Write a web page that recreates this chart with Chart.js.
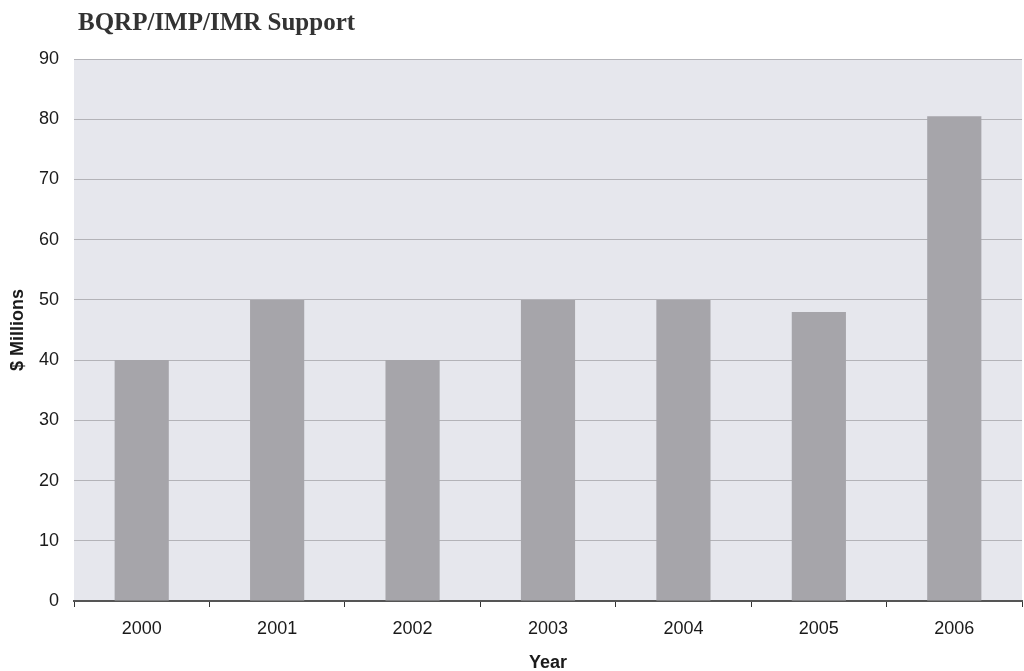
<!DOCTYPE html>
<html>
<head>
<meta charset="utf-8">
<script src="https://cdn.jsdelivr.net/npm/chart.js@4/dist/chart.umd.min.js"></script>
<style>
  html, body { margin: 0; padding: 0; background: #ffffff; }
  #wrap { width: 1024px; height: 671px; position: relative; }
</style>
</head>
<body>
<div id="wrap"><canvas id="c" width="1024" height="671"></canvas></div>
<script>
const years = ['2000', '2001', '2002', '2003', '2004', '2005', '2006'];
const support = [40, 50, 40, 50, 50, 48, 80.5];
const yTicks = [0, 10, 20, 30, 40, 50, 60, 70, 80, 90];
const chartTitle = 'BQRP/IMP/IMR Support';
const yTitle = '$ Millions';
const xTitle = 'Year';

const sans = '"Liberation Sans", Arial, sans-serif';

// Shaded plot background plus the serif heading above it
const plotDecor = {
  id: 'plotDecor',
  beforeDraw(chart) {
    const { ctx, chartArea: a } = chart;
    ctx.save();
    ctx.fillStyle = '#e6e7ed';
    ctx.fillRect(a.left, a.top, a.right - a.left, a.bottom - a.top);
    ctx.restore();
  },
  afterDraw(chart) {
    const { ctx, chartArea: a } = chart;
    ctx.save();
    ctx.font = 'bold 25px "Liberation Serif", "DejaVu Serif", serif';
    ctx.fillStyle = '#333333';
    ctx.textBaseline = 'alphabetic';
    ctx.textAlign = 'left';
    ctx.fillText(chartTitle, a.left + 4, 30);
    ctx.restore();
  }
};

new Chart(document.getElementById('c'), {
  type: 'bar',
  data: {
    labels: years,
    datasets: [{
      data: support,
      backgroundColor: '#a6a5aa',
      borderWidth: 0,
      barPercentage: 0.4,
      categoryPercentage: 1.0
    }]
  },
  options: {
    responsive: false,
    animation: false,
    layout: { padding: { top: 59, left: 7, right: 2, bottom: 0 } },
    plugins: {
      legend: { display: false },
      title: { display: false },
      tooltip: { enabled: false }
    },
    scales: {
      x: {
        offset: true,
        afterFit(scale) { scale.height = 70; },
        grid: {
          offset: true,
          drawOnChartArea: false,
          drawTicks: true,
          tickLength: 6,
          color: '#333333',
          lineWidth: 1
        },
        border: { display: true, color: '#555555', width: 2 },
        ticks: {
          color: '#1a1a1a',
          padding: 11,
          font: { family: sans, size: 18 }
        },
        title: {
          display: true,
          text: xTitle,
          color: '#1a1a1a',
          padding: { top: 0, bottom: -3 },
          font: { family: sans, size: 18, weight: 'bold' }
        }
      },
      y: {
        min: 0,
        max: 90,
        afterFit(scale) { scale.width = 67; },
        afterBuildTicks(scale) {
          scale.ticks = yTicks.map(v => ({ value: v }));
        },
        grid: {
          drawTicks: false,
          color: (ctx) => ctx.tick && ctx.tick.value === 0 ? 'rgba(0,0,0,0)' : '#b3b3b8',
          lineWidth: 1
        },
        border: { display: false },
        ticks: {
          color: '#1a1a1a',
          padding: 15,
          font: { family: sans, size: 18 }
        },
        title: {
          display: true,
          text: yTitle,
          color: '#1a1a1a',
          padding: { top: 0, bottom: 0 },
          font: { family: sans, size: 18, weight: 'bold' }
        }
      }
    }
  },
  plugins: [plotDecor]
});
</script>
</body>
</html>
